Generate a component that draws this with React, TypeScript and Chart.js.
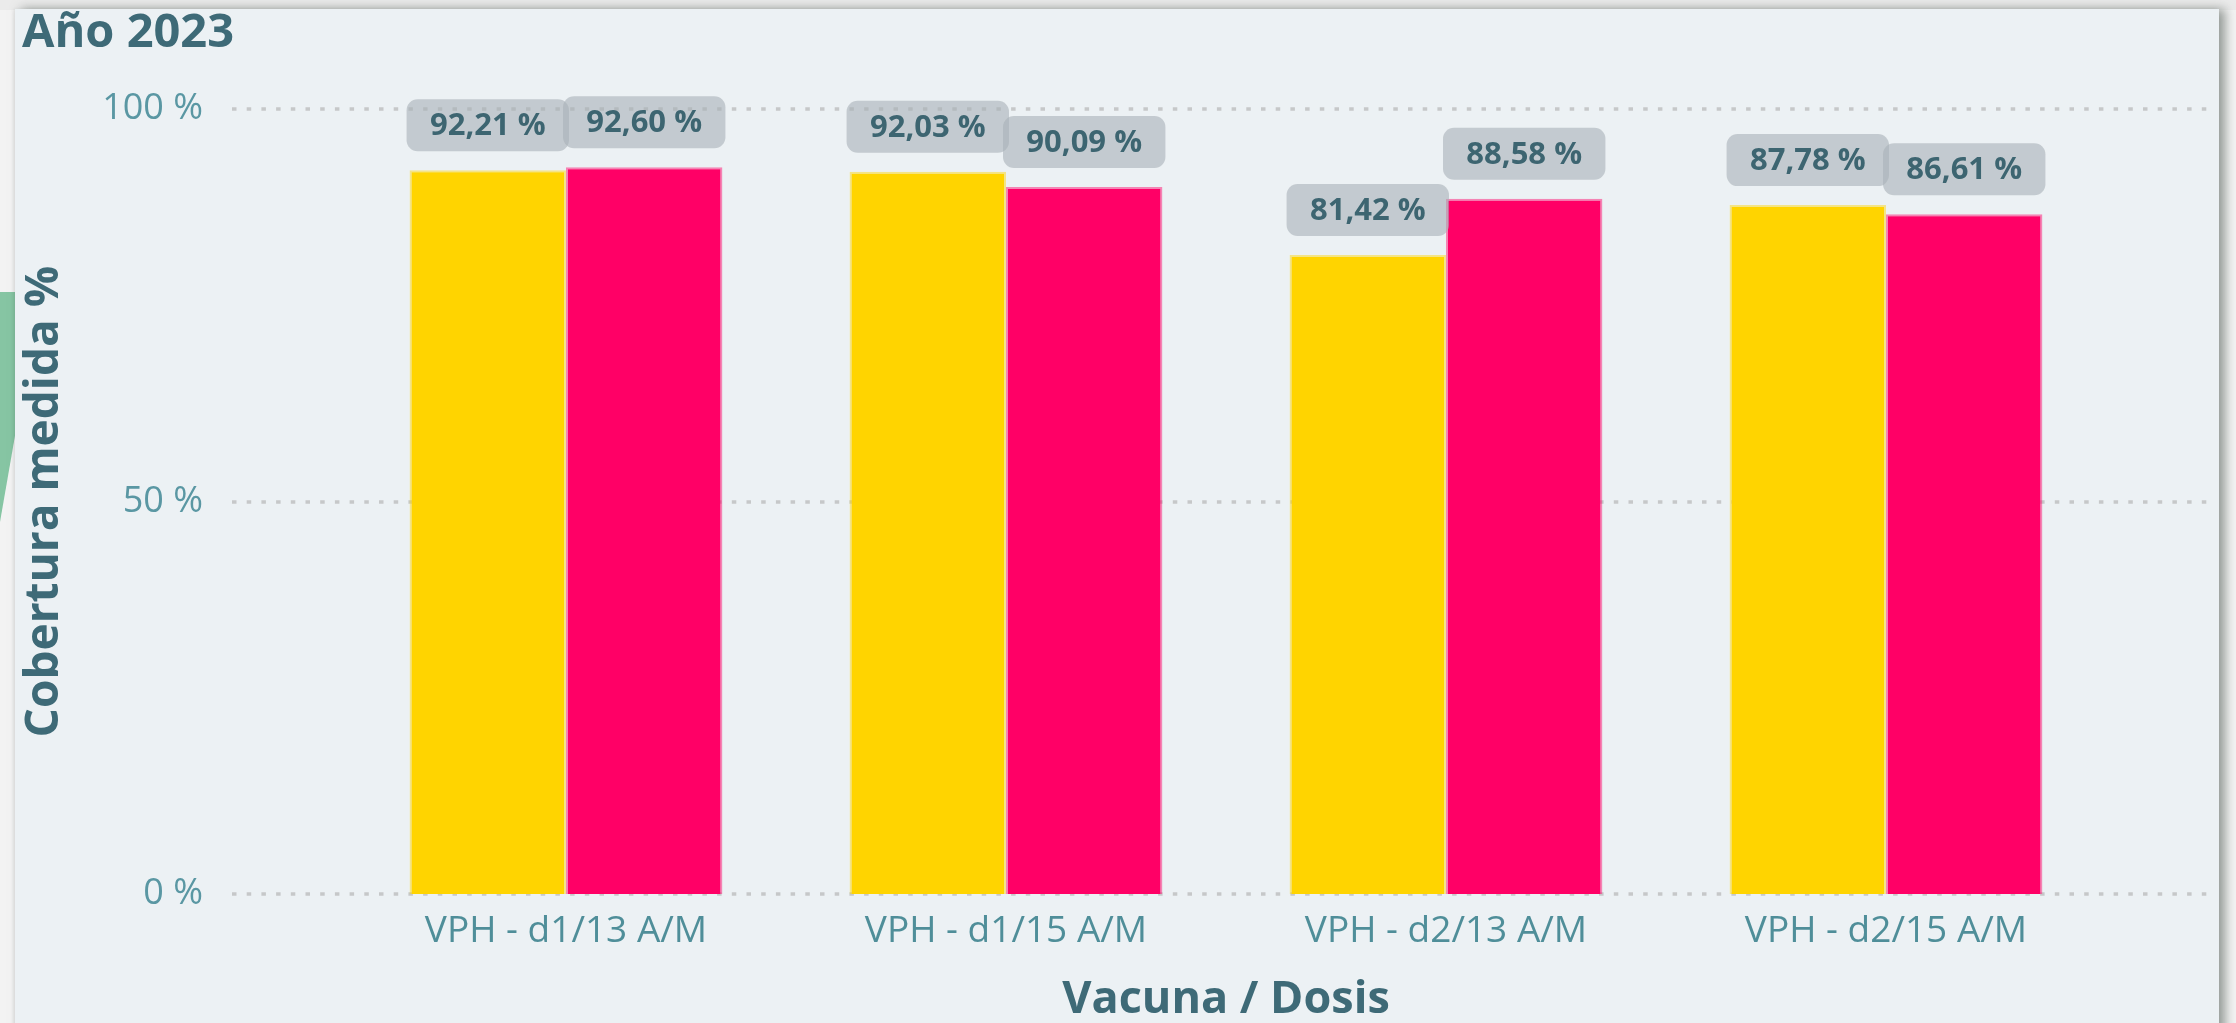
import React, { useEffect, useRef } from "react";
import { Chart, registerables } from "chart.js";

Chart.register(...registerables);

// ---- data ----
const categories = ["VPH - d1/13 A/M", "VPH - d1/15 A/M", "VPH - d2/13 A/M", "VPH - d2/15 A/M"];
const seriesYellow = [92.21, 92.03, 81.42, 87.78];
const seriesPink = [92.6, 90.09, 88.58, 86.61];
const yTickValues = [0, 50, 100];
const chartTitle = "Año 2023";
const yAxisTitle = "Cobertura medida %";
const xAxisTitle = "Vacuna / Dosis";

const W = 2236;
const H = 1027;
const FONT = "'Open Sans', 'Noto Sans', sans-serif";
const DARK = "#3E6A77";

const fmt = (v: number) => v.toFixed(2).replace(".", ",") + " %";

const gridPlugin = {
  id: "dottedGrid",
  beforeDatasetsDraw(chart: any) {
    const { ctx, chartArea } = chart;
    const ys = chart.scales.y;
    ctx.save();
    ctx.strokeStyle = "#C6C8C9";
    ctx.lineWidth = 3.5;
    ctx.setLineDash([4.5, 10.2]);
    ys.ticks.forEach((t: any) => {
      const y = Math.round(ys.getPixelForValue(t.value));
      ctx.beginPath();
      ctx.moveTo(chartArea.left - 114, y);
      ctx.lineTo(chartArea.right + 107, y);
      ctx.stroke();
    });
    ctx.restore();
  },
};

const labelPlugin = {
  id: "valueLabels",
  afterDatasetsDraw(chart: any) {
    const { ctx } = chart;
    ctx.save();
    chart.data.datasets.forEach((ds: any, di: number) => {
      const meta = chart.getDatasetMeta(di);
      meta.data.forEach((bar: any, i: number) => {
        const { x, y, width } = bar.getProps(["x", "y", "width"], true);
        const bw = width + 6;
        const bh = 52;
        const bx = x - bw / 2;
        const by = y - 19 - bh;
        ctx.fillStyle = "rgba(168,177,183,0.6)";
        ctx.beginPath();
        ctx.roundRect(bx, by, bw, bh, 11);
        ctx.fill();
        ctx.fillStyle = "#3D6571";
        ctx.font = `bold 31px ${FONT}`;
        ctx.textAlign = "center";
        ctx.textBaseline = "middle";
        ctx.fillText(fmt(ds.data[i]), x, by + bh / 2 + 1);
      });
    });
    ctx.restore();
  },
};

export default function App() {
  const ref = useRef<HTMLCanvasElement | null>(null);

  useEffect(() => {
    document.body.style.margin = "0";
    const canvas = ref.current;
    if (!canvas) return;
    const chart = new Chart(canvas, {
      type: "bar",
      data: {
        labels: categories,
        datasets: [
          {
            label: "Yellow",
            data: seriesYellow,
            backgroundColor: "#FFD400",
            borderColor: "rgba(255,212,0,0.45)",
            borderWidth: 2,
            categoryPercentage: 0.711,
            barPercentage: 1,
          },
          {
            label: "Pink",
            data: seriesPink,
            backgroundColor: "#FF0066",
            borderColor: "rgba(255,0,102,0.45)",
            borderWidth: 2,
            categoryPercentage: 0.711,
            barPercentage: 1,
          },
        ],
      },
      options: {
        responsive: false,
        animation: false,
        devicePixelRatio: 1,
        layout: { padding: { left: 22, right: 130, top: 0, bottom: 0 } },
        plugins: {
          legend: { display: false },
          tooltip: { enabled: false },
          title: {
            display: true,
            text: chartTitle,
            align: "start",
            color: DARK,
            font: { family: FONT, size: 47, weight: "bold", lineHeight: 1.2 },
            padding: { top: 5, bottom: 47.8 },
          },
        },
        scales: {
          x: {
            grid: { display: false, drawTicks: false },
            border: { display: false },
            ticks: {
              color: "#4F8E99",
              font: { family: FONT, size: 37, lineHeight: 1.2 },
              padding: 15,
              maxRotation: 0,
              autoSkip: false,
            },
            title: {
              display: true,
              text: xAxisTitle,
              color: DARK,
              font: { family: FONT, size: 45, weight: "bold", lineHeight: 1.2 },
              padding: { top: 0, bottom: 0 },
            },
            afterFit: (s: any) => {
              s.height = 133;
            },
          },
          y: {
            min: 0,
            max: 100,
            afterBuildTicks: (s: any) => {
              s.ticks = yTickValues.map((v) => ({ value: v }));
            },
            grid: { display: false, drawTicks: true, tickLength: 140, tickColor: "rgba(0,0,0,0)" },
            border: { display: false },
            ticks: {
              callback: (v: any) => `${v} %`,
              color: "#5A97A3",
              font: { family: FONT, size: 36, lineHeight: 1.2 },
              padding: 3,
            },
            title: {
              display: true,
              text: yAxisTitle,
              color: DARK,
              font: { family: FONT, size: 46, weight: "bold", lineHeight: 1.2 },
              padding: { top: -5, bottom: 0 },
            },
            afterFit: (s: any) => {
              s.width = 324;
            },
          },
        },
      } as any,
      plugins: [gridPlugin, labelPlugin],
    });
    return () => chart.destroy();
  }, []);

  return (
    <div
      style={{
        position: "fixed",
        left: 0,
        top: 0,
        width: 2236,
        height: 1023,
        overflow: "hidden",
        background: "#F3F3F3",
      }}
    >
      <div style={{ position: "absolute", left: 0, top: 0, width: 2236, height: 10, background: "#EBEBEB" }} />
      <div
        style={{
          position: "absolute",
          left: 0,
          top: 292,
          width: 16,
          height: 230,
          background: "#86C5A3",
          clipPath: "polygon(0 0, 100% 0, 100% 60%, 0 100%)",
        }}
      />
      <div
        style={{
          position: "absolute",
          left: 15,
          top: 9,
          width: 2204,
          height: 1040,
          background: "#ECF1F4",
          boxShadow: "6px 0 10px rgba(70,80,72,0.55), -2px 0 3px rgba(0,0,0,0.06)",
        }}
      />
      <canvas
        ref={ref}
        width={W}
        height={H}
        style={{ position: "absolute", left: 0, top: 0, width: W, height: H }}
      />
    </div>
  );
}
